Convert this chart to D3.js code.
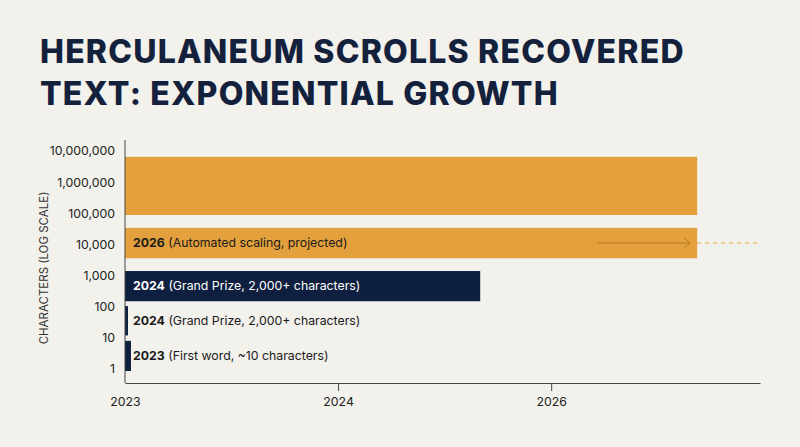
<!DOCTYPE html>
<html><head><meta charset="utf-8">
<script src="https://cdn.jsdelivr.net/npm/d3@7"></script>
<style>body{margin:0;background:#f2f1ec;}svg{display:block;font-family:Inter,"Noto Sans",sans-serif;}</style>
</head><body><svg id="c" width="800" height="447"></svg>
<script>
const yTicks = [1,10,100,1000,10000,100000,1000000,10000000];
const xTickLabels = ["2023","2024","2026"];
const barYear = ["", "2026", "2024", "2024", "2023"];
const barText = ["", "(Automated scaling, projected)", "(Grand Prize, 2,000+ characters)", "(Grand Prize, 2,000+ characters)", "(First word, ~10 characters)"];
const barLow = [88000, 3600, 150, 12, 0.86];
const barHigh = [6500000, 34000, 1400, 105, 8];
const barEnd = [2.685, 2.685, 1.667, 0.014, 0.028];
const barColor = ["#e3a03c","#e3a03c","#0f1f40","#0f1f40","#0f1f40"];
const labelColor = ["#1a1a1a","#1a1a1a","#ffffff","#1a1a1a","#1a1a1a"];

const svg = d3.select("#c");
svg.append("rect").attr("width",800).attr("height",447).attr("fill","#f2f1ec");
svg.append("text").attr("x",40).attr("y",63).attr("fill","#14213d").attr("font-size",32).attr("font-weight",800).attr("letter-spacing",1.2).text("HERCULANEUM SCROLLS RECOVERED");
svg.append("text").attr("x",40).attr("y",105).attr("fill","#14213d").attr("font-size",32).attr("font-weight",800).attr("letter-spacing",1.2).text("TEXT: EXPONENTIAL GROWTH");

const y = d3.scaleLog().domain([1,1e7]).range([369,151]);
const x = d3.scaleLinear().domain([0,2.98]).range([125,760]);

barLow.forEach((lo,i)=>{
  svg.append("rect").attr("x",x(0)).attr("y",y(barHigh[i])).attr("width",x(barEnd[i])-x(0))
    .attr("height",y(lo)-y(barHigh[i])).attr("fill",barColor[i]);
  if(barYear[i]){
    const t = svg.append("text").attr("x",133).attr("y",(y(lo)+y(barHigh[i]))/2+4).attr("font-size",12.3).attr("fill",labelColor[i]);
    t.append("tspan").attr("font-weight",700).text(barYear[i]);
    t.append("tspan").text(" "+barText[i]);
  }
});
const ay = (y(barLow[1])+y(barHigh[1]))/2;
svg.append("line").attr("x1",597).attr("x2",x(barEnd[1])-7).attr("y1",ay).attr("y2",ay).attr("stroke","#b87a1f").attr("stroke-width",1);
svg.append("path").attr("d",`M${x(barEnd[1])-13},${ay-5}L${x(barEnd[1])-7},${ay}L${x(barEnd[1])-13},${ay+5}`).attr("fill","none").attr("stroke","#b87a1f");
svg.append("line").attr("x1",x(barEnd[1])).attr("x2",760).attr("y1",ay).attr("y2",ay).attr("stroke","#e3a03c").attr("stroke-dasharray","4,4");

const ya = svg.append("g").attr("transform","translate(125,0)").call(d3.axisLeft(y).tickValues(yTicks).tickFormat(d3.format(",")).tickSize(0).tickPadding(10));
ya.select(".domain").remove();
ya.selectAll("text").attr("font-size",12.3).attr("fill","#222").attr("font-family","Inter,'Noto Sans',sans-serif");
svg.append("line").attr("x1",125).attr("x2",125).attr("y1",140).attr("y2",383).attr("stroke","#444");
svg.append("text").attr("transform","translate(48,268) rotate(-90)").attr("text-anchor","middle").attr("font-size",11.5).attr("fill","#333").text("CHARACTERS (LOG SCALE)");

const xa = svg.append("g").attr("transform","translate(0,383)").call(d3.axisBottom(x).tickValues([0,1,2]).tickFormat((d,i)=>xTickLabels[i]).tickSize(8).tickSizeOuter(0).tickPadding(6));
xa.select(".domain").attr("stroke","#444");
xa.selectAll(".tick line").attr("stroke","#444").filter((d)=>d===0).remove();
xa.selectAll("text").attr("font-size",12.3).attr("fill","#222").attr("font-family","Inter,'Noto Sans',sans-serif");
</script></body></html>
